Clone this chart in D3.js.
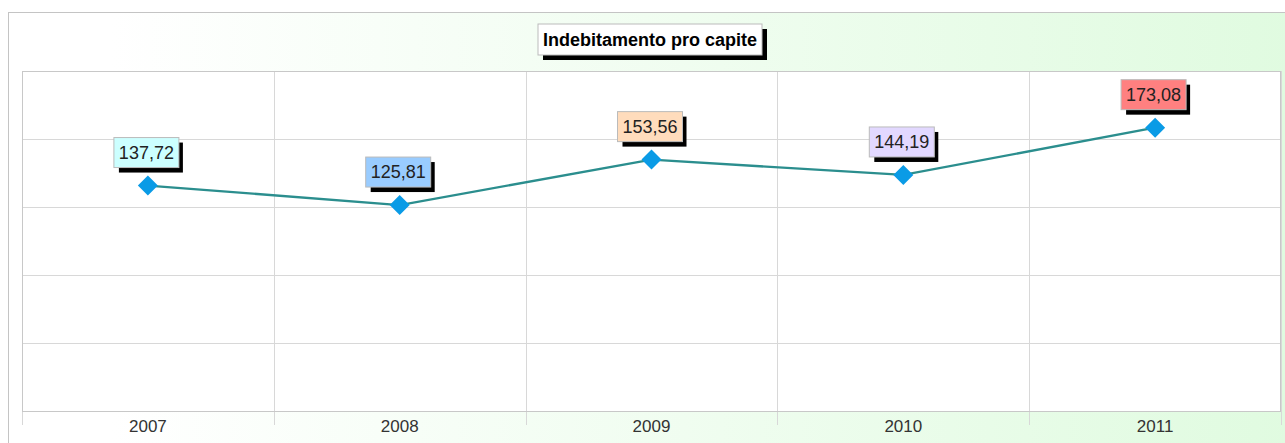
<!DOCTYPE html>
<html><head><meta charset="utf-8">
<script src="https://cdn.jsdelivr.net/npm/d3@7"></script>
<style>html,body{margin:0;padding:0;background:#fff;}svg{display:block;}</style>
</head><body>
<script>
const title = "Indebitamento pro capite";
const categories = ["2007","2008","2009","2010","2011"];
const values = [137.72, 125.81, 153.56, 144.19, 173.08];
const valueLabels = ["137,72","125,81","153,56","144,19","173,08"];
const labelColors = ["#ccffff","#99ccff","#ffdcbc","#e2d8ff","#ff8080"];

const W = 1285, H = 443;
const svg = d3.select("body").append("svg").attr("width", W).attr("height", H);
const defs = svg.append("defs");
const grad = defs.append("linearGradient").attr("id","bg").attr("x1","0").attr("x2","1").attr("y1","0").attr("y2","0");
grad.append("stop").attr("offset","0").attr("stop-color","#ffffff");
grad.append("stop").attr("offset","0.08").attr("stop-color","#ffffff");
grad.append("stop").attr("offset","1").attr("stop-color","#e0fbe0");

svg.append("rect").attr("x",8.5).attr("y",12.5).attr("width",W).attr("height",H)
  .attr("fill","url(#bg)").attr("stroke","#c4c4c4").attr("stroke-width",1);

const plot = {left:22, right:1281, top:71, bottom:411};
const x = d3.scaleBand().domain(categories).range([plot.left, plot.right]);
const y = d3.scaleLinear().domain([0, d3.max(values)*1.2]).range([plot.bottom, plot.top]);

svg.append("rect").attr("x",plot.left).attr("y",plot.top)
  .attr("width",plot.right-plot.left).attr("height",plot.bottom-plot.top).attr("fill","#fff");

// horizontal grid
const yt = d3.range(0,6).map(i => y.domain()[1]*i/5);
svg.append("g").selectAll("line").data(yt).join("line")
  .attr("x1",plot.left).attr("x2",plot.right)
  .attr("y1",d=>Math.round(y(d))+0.5).attr("y2",d=>Math.round(y(d))+0.5)
  .attr("stroke","#d8d8d8");
// vertical grid + ticks
const xb = categories.map(c=>x(c)).concat([plot.right]);
svg.append("g").selectAll("line").data(xb).join("line")
  .attr("x1",d=>Math.round(d)+0.5).attr("x2",d=>Math.round(d)+0.5)
  .attr("y1",plot.top).attr("y2",425)
  .attr("stroke","#d8d8d8");
// plot border
svg.append("rect").attr("x",plot.left+0.5).attr("y",plot.top+0.5)
  .attr("width",plot.right-plot.left-1).attr("height",plot.bottom-plot.top)
  .attr("fill","none").attr("stroke","#c8c8c8");

// x axis labels
const xAxis = d3.axisBottom(x).tickSize(0).tickPadding(9);
const gx = svg.append("g").attr("transform",`translate(0,${plot.bottom})`).call(xAxis);
gx.select(".domain").remove();
gx.selectAll("text").attr("font-family","Liberation Sans, Arial, sans-serif").attr("font-size",17).attr("fill","#333");

// line
const cx = c => x(c) + x.bandwidth()/2;
svg.append("path").datum(values)
  .attr("d", d3.line().x((d,i)=>cx(categories[i])).y(d=>y(d)))
  .attr("fill","none").attr("stroke","#2b8e8e").attr("stroke-width",2.3);

// markers
svg.append("g").selectAll("path").data(values).join("path")
  .attr("transform",(d,i)=>`translate(${cx(categories[i])},${y(d)})`)
  .attr("d","M0,-10L10,0L0,10L-10,0Z").attr("fill","#0a9be6");

// value labels
const lg = svg.append("g").selectAll("g").data(values).join("g")
  .attr("transform",(d,i)=>`translate(${cx(categories[i])-1},${y(d)-17})`);
lg.append("rect").attr("x",-28).attr("y",-26).attr("width",64).attr("height",30).attr("fill","#000");
lg.append("rect").attr("x",-33).attr("y",-31).attr("width",65).attr("height",30)
  .attr("fill",(d,i)=>labelColors[i]).attr("stroke","#bbb");
lg.append("text").attr("x",-0.5).attr("y",-10).attr("text-anchor","middle")
  .attr("font-family","Liberation Sans, Arial, sans-serif").attr("font-size",18).attr("fill","#222")
  .text((d,i)=>valueLabels[i]);

// title
const tg = svg.append("g").attr("transform","translate(650,40)");
tg.append("rect").attr("x",-107).attr("y",-11).attr("width",224).attr("height",31).attr("fill","#000");
tg.append("rect").attr("x",-112).attr("y",-16).attr("width",224).attr("height",31).attr("fill","#fff").attr("stroke","#bbb");
tg.append("text").attr("x",0).attr("y",6).attr("text-anchor","middle")
  .attr("font-family","Liberation Sans, Arial, sans-serif").attr("font-size",18).attr("font-weight","bold")
  .attr("fill","#000").text(title);
</script>
</body></html>
